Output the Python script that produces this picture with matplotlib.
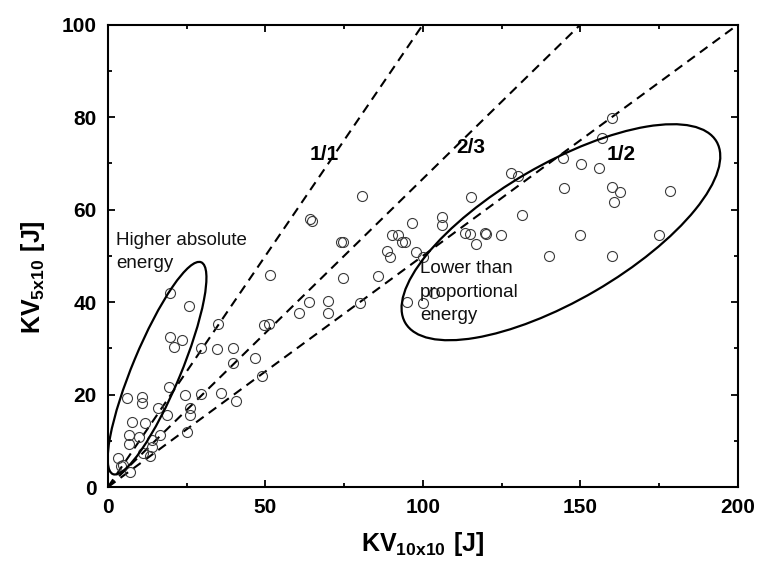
import matplotlib
matplotlib.use("Agg")
import matplotlib.pyplot as plt
from matplotlib.patches import Circle
from matplotlib.transforms import Affine2D
from matplotlib.ticker import MultipleLocator

plt.rcParams['font.family'] = ['Liberation Sans', 'DejaVu Sans']
plt.rcParams['mathtext.fontset'] = 'custom'
plt.rcParams['mathtext.bf'] = 'Liberation Sans:bold'
plt.rcParams['mathtext.rm'] = 'Liberation Sans'

# KV 10x10 vs KV 5x10 impact energies [J]
kv10 = [19.7, 25.8, 19.7, 23.4, 21.0, 29.7, 34.5, 39.6, 35.0, 49.5, 51.0, 51.6,
        39.6, 46.7, 48.8, 19.3, 5.9, 10.7, 10.7, 24.6, 29.7, 35.8, 40.6, 16.0,
        18.6, 26.0, 26.0, 7.8, 11.7, 25.0, 6.8, 6.8, 9.9, 13.9, 16.5, 11.2,
        13.3, 13.9, 3.3, 4.9, 7.0, 4.0,
        80.7, 64.1, 64.7, 74.0, 74.5, 74.7, 85.6, 63.9, 60.6, 69.9, 69.9, 80.0,
        96.4, 106.2, 106.2, 115.1, 90.3, 92.2, 94.3, 93.2, 88.7, 89.5, 97.8,
        100.1, 113.3, 114.9, 119.7, 117.0, 94.8, 100.1, 103.5,
        159.9, 156.9, 144.5, 150.2, 155.9, 127.8, 130.3, 144.8, 159.9, 162.5,
        160.6, 178.4, 131.6, 120.0, 124.8, 149.8, 175.0, 140.0, 159.9]
kv5 = [41.9, 39.1, 32.4, 31.9, 30.3, 30.0, 29.8, 30.1, 35.2, 35.0, 35.3, 45.8,
       26.9, 28.0, 24.0, 21.7, 19.2, 19.5, 18.2, 19.9, 20.1, 20.4, 18.7, 17.0,
       15.6, 17.0, 15.6, 14.0, 13.9, 12.0, 11.2, 9.4, 10.9, 10.2, 11.2, 7.3,
       6.7, 8.7, 6.2, 4.8, 3.3, 4.5,
       62.9, 57.9, 57.6, 53.0, 52.9, 45.1, 45.6, 40.1, 37.7, 40.3, 37.7, 39.9,
       57.1, 58.4, 56.6, 62.8, 54.5, 54.5, 53.0, 53.0, 51.1, 49.8, 50.9,
       49.8, 55.0, 54.8, 55.0, 52.5, 40.1, 39.9, 41.9,
       79.9, 75.4, 71.1, 69.8, 68.9, 67.8, 67.3, 64.6, 64.8, 63.7,
       61.7, 64.1, 58.8, 54.8, 54.6, 54.6, 54.5, 49.9, 49.9]

# proportionality lines y = k * x
ratios = [1.0, 2 / 3, 0.5]
ratio_labels = ['1/1', '2/3', '1/2']
ratio_label_pos = [(68.6, 71.8), (115.2, 73.5), (162.9, 72.0)]

fig = plt.figure(figsize=(7.6, 5.71), dpi=100)
ax = fig.add_axes([0.142, 0.147, 0.829, 0.810])

for k in ratios:
    ax.plot([0, 200], [0, 200 * k], color='black', lw=1.5,
            dashes=(4.5, 3), zorder=2)
for lab, (tx, ty) in zip(ratio_labels, ratio_label_pos):
    ax.text(tx, ty, lab, fontsize=15, fontweight='bold', ha='center', va='center')

ax.plot(kv10, kv5, 'o', ms=7.2, mfc='none', mec='#3a3a3a', mew=0.8, zorder=3)

# ellipses given as centre plus two conjugate half-axis vectors (data units)
ellipses = [
    ((15.6, 25.7), (14.0, 22.9), (7.05, -1.99)),
    ((143.8, 55.1), (49.4, 19.6), (-10.9, 12.7)),
]
for (cx, cy), (ux, uy), (vx, vy) in ellipses:
    tr = Affine2D([[ux, vx, cx], [uy, vy, cy], [0, 0, 1]]) + ax.transData
    ax.add_patch(Circle((0, 0), 1, fill=False, lw=1.6, ec='black',
                        transform=tr, zorder=4))

ax.text(2.5, 55.2, 'Higher absolute\nenergy', fontsize=13.5, ha='left',
        va='top', linespacing=1.5, color='#111111')
ax.text(99.0, 49.0, 'Lower than\nproportional\nenergy', fontsize=13.5,
        ha='left', va='top', linespacing=1.5, color='#111111')

ax.set_xlim(0, 200)
ax.set_ylim(0, 100)
ax.xaxis.set_major_locator(MultipleLocator(50))
ax.xaxis.set_minor_locator(MultipleLocator(25))
ax.yaxis.set_major_locator(MultipleLocator(20))
ax.yaxis.set_minor_locator(MultipleLocator(10))
ax.tick_params(which='both', direction='in', top=True, right=True, width=1.3)
ax.tick_params(which='major', length=5, pad=8, labelsize=15)
ax.tick_params(which='minor', length=3)
for lab in ax.get_xticklabels() + ax.get_yticklabels():
    lab.set_fontweight('bold')
for sp in ax.spines.values():
    sp.set_linewidth(1.5)

ax.set_xlabel(r'$\mathbf{KV_{10x10}\ [J]}$', fontsize=18, labelpad=9)
ax.set_ylabel(r'$\mathbf{KV_{5x10}\ [J]}$', fontsize=18)
ax.yaxis.set_label_coords(-0.097, 0.455)

fig.savefig('out.png', dpi=100)
